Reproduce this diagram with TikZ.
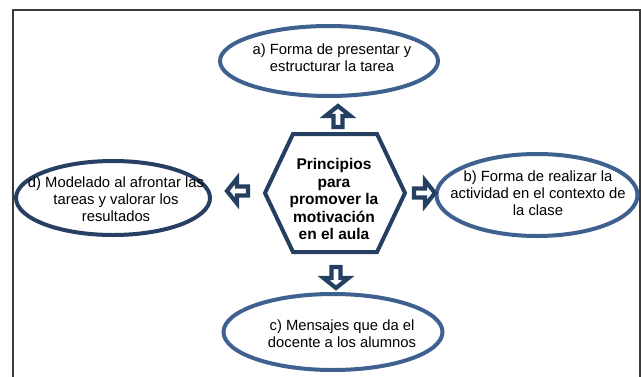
\documentclass[tikz,border=0pt]{standalone}
\usepackage{fontspec}
\setmainfont{Liberation Sans}
\usetikzlibrary{shapes.geometric}
\definecolor{navy}{HTML}{243F60}
\definecolor{ellblue}{HTML}{3F6190}
\definecolor{elldark}{HTML}{263F63}
\definecolor{framegray}{HTML}{3A3A3A}
\tikzset{
  ell/.style={ellipse, draw=ellblue, line width=4pt, inner sep=0pt},
  lbl/.style={align=center, font=\fontsize{14.8}{17}\selectfont, text=black, inner sep=0pt},
  blockarrow/.style={draw=navy, fill=white, line width=4.2pt, line join=miter},
}
\newcommand{\barrow}[3]{%
  \begin{scope}[shift={(#1,#2)}, rotate=#3]
    \draw[blockarrow] (0,0) -- (-10,-12.5) -- (-10,-4.5) -- (-21,-4.5) -- (-21,4.5) -- (-10,4.5) -- (-10,12.5) -- cycle;
  \end{scope}}
\begin{document}
\begin{tikzpicture}[x=1pt,y=-1pt]
\useasboundingbox (0,0) rectangle (641,376);
% frame
\draw[framegray, line width=2pt] (13,377) -- (13,10) -- (640,10) -- (640,377);
% hexagon
\coordinate (h1) at (265,193);
\coordinate (h2) at (293,134);
\coordinate (h3) at (377,134);
\coordinate (h4) at (405,193);
\coordinate (h5) at (377,252);
\coordinate (h6) at (293,252);
\draw[navy, line width=4pt, line join=miter] (h1) -- (h2) -- (h3) -- (h4) -- (h5) -- (h6) -- cycle;
\node[lbl, font=\fontsize{15.5}{17.5}\selectfont\bfseries] (center) at (334,199) {Principios\\para\\promover la\\motivación\\en el aula};
% ellipses
\node[ell, minimum width=218pt, minimum height=70pt] (ea) at (329,61) {};
\node[lbl] (ta) at (332,58) {a) Forma de presentar y\\estructurar la tarea};
\node[ell, minimum width=201pt, minimum height=82pt] (eb) at (537,195) {};
\node[lbl] (tb) at (538,193) {b) Forma de realizar la\\actividad en el contexto de\\la clase};
\node[ell, minimum width=219pt, minimum height=76pt] (ec) at (333,332) {};
\node[lbl] (tc) at (342,334) {c) Mensajes que da el\\docente a los alumnos};
\node[ell, draw=elldark, minimum width=194pt, minimum height=74pt] (ed) at (113,198) {};
\node[lbl] (td) at (116,199) {d) Modelado al afrontar las\\tareas y valorar los\\resultados};
% block arrows
\barrow{338}{106}{90}
\barrow{336}{288}{-90}
\barrow{227}{191}{180}
\barrow{435}{193}{0}
\end{tikzpicture}
\end{document}
